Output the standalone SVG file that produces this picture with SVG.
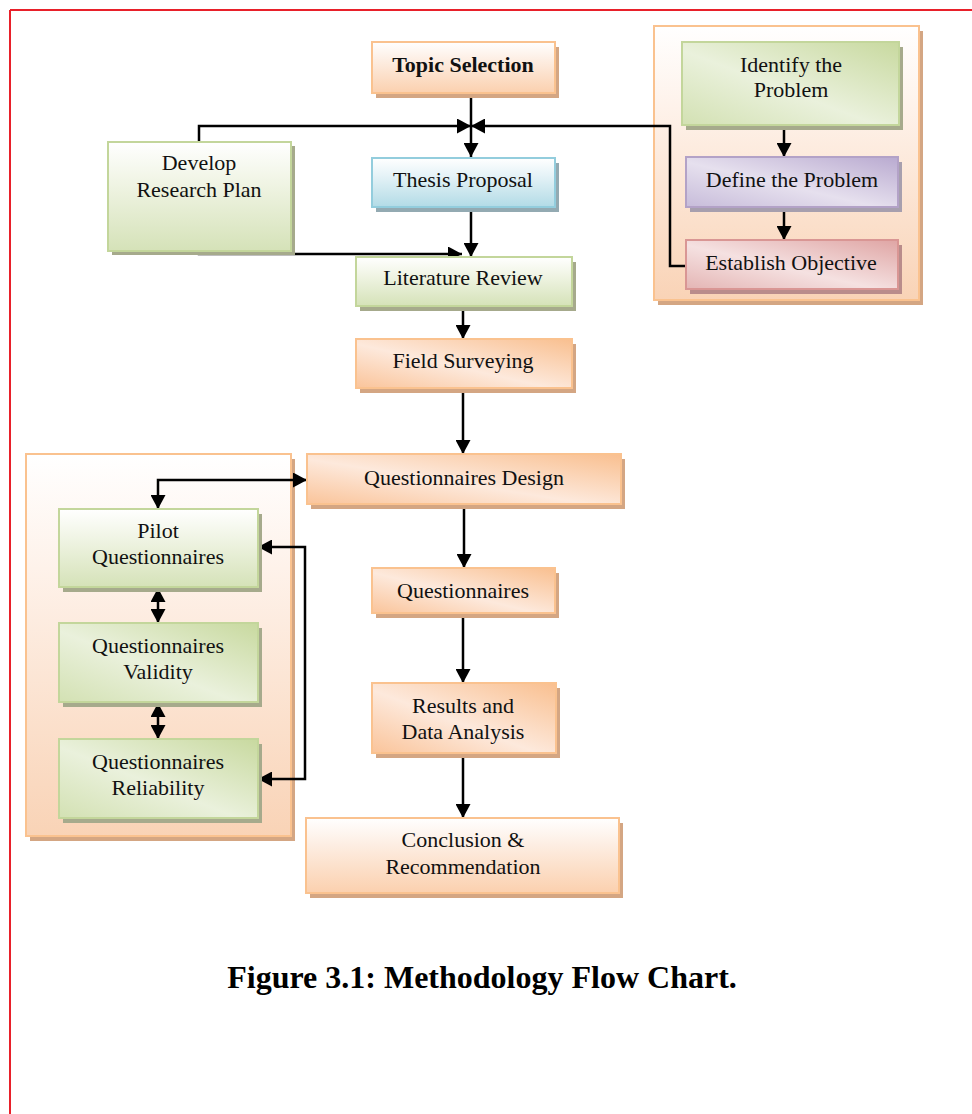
<svg xmlns="http://www.w3.org/2000/svg" width="972" height="1114" viewBox="0 0 972 1114">
<defs>
<linearGradient id="gOrV" x1="0" y1="0" x2="0" y2="1"><stop offset="0" stop-color="#ffffff"/><stop offset="0.35" stop-color="#fdeee3"/><stop offset="1" stop-color="#fbd0ae"/></linearGradient>
<linearGradient id="gOrD" x1="1" y1="0" x2="0" y2="1"><stop offset="0" stop-color="#f9bf8f"/><stop offset="0.55" stop-color="#fde9dc"/><stop offset="1" stop-color="#fac49a"/></linearGradient>
<linearGradient id="gGrV" x1="0" y1="0" x2="0" y2="1"><stop offset="0" stop-color="#ffffff"/><stop offset="0.35" stop-color="#f1f5e6"/><stop offset="1" stop-color="#d5e2b8"/></linearGradient>
<linearGradient id="gGrD" x1="1" y1="0" x2="0" y2="1"><stop offset="0" stop-color="#c8d99f"/><stop offset="0.55" stop-color="#eaf1dc"/><stop offset="1" stop-color="#d3e1b3"/></linearGradient>
<linearGradient id="gBlV" x1="0" y1="0" x2="0" y2="1"><stop offset="0" stop-color="#ffffff"/><stop offset="0.35" stop-color="#e6f3f7"/><stop offset="1" stop-color="#b2dbe6"/></linearGradient>
<linearGradient id="gPuD" x1="1" y1="0" x2="0" y2="1"><stop offset="0" stop-color="#b9aad0"/><stop offset="0.55" stop-color="#e6e0ee"/><stop offset="1" stop-color="#c7bcda"/></linearGradient>
<linearGradient id="gReD" x1="1" y1="0" x2="0" y2="1"><stop offset="0" stop-color="#dfa5a4"/><stop offset="0.55" stop-color="#f5e1e1"/><stop offset="1" stop-color="#e4b5b4"/></linearGradient>
<linearGradient id="gCont" x1="0" y1="0" x2="0" y2="1"><stop offset="0" stop-color="#ffffff"/><stop offset="0.3" stop-color="#fef2ea"/><stop offset="1" stop-color="#f9d3b6"/></linearGradient>
<marker id="ah" viewBox="0 0 14 15" refX="14" refY="7.5" markerWidth="14" markerHeight="15" markerUnits="userSpaceOnUse" orient="auto-start-reverse"><path d="M0,0 L14,7.5 L0,15 z" fill="#000"/></marker>
</defs>
<style>
.t{font-family:"Liberation Serif","Times New Roman",serif;font-size:22px;fill:#111;text-anchor:middle}
.b{font-weight:bold}
.cap{font-family:"Liberation Serif","Times New Roman",serif;font-size:32px;font-weight:bold;fill:#000;text-anchor:middle}
.bo{stroke:#fac28f;stroke-width:2}
.bg{stroke:#c3d69b;stroke-width:2}
.bb{stroke:#93cddd;stroke-width:2}
.bp{stroke:#b3a2c7;stroke-width:2}
.br{stroke:#d99694;stroke-width:2}
.so{fill:#d4a683}
.sg{fill:#a6aa8c}
.sb{fill:#93aab2}
.sp{fill:#a79fae}
.sr{fill:#b98c8b}
.c{fill:none;stroke:#000;stroke-width:2.5}
</style>
<path d="M10,10 H972 M10,10 V1114" fill="none" stroke="#e8202a" stroke-width="2"/>

<g id="container-left">
<rect x="30" y="459" width="265" height="382" class="so"/>
<rect x="26" y="454" width="265" height="382" fill="url(#gCont)" class="bo"/>
</g>
<g id="container-right">
<rect x="658" y="31" width="265" height="274" class="so"/>
<rect x="654" y="26" width="265" height="274" fill="url(#gCont)" class="bo"/>
</g>

<g id="connectors">
<path class="c" d="M471,93 V157" marker-end="url(#ah)"/>
<path class="c" d="M199,142 V126 H471" marker-end="url(#ah)"/>
<path class="c" d="M686,266 H670 V126 H471" marker-end="url(#ah)"/>
<path class="c" d="M471,207 V257" marker-end="url(#ah)"/>
<path class="c" d="M199,251 V254 H462" marker-end="url(#ah)"/>
<path class="c" d="M463,307 V339" marker-end="url(#ah)"/>
<path class="c" d="M463,388 V454" marker-end="url(#ah)"/>
<path class="c" d="M464,504 V568" marker-end="url(#ah)"/>
<path class="c" d="M463,613 V683" marker-end="url(#ah)"/>
<path class="c" d="M463,753 V818" marker-end="url(#ah)"/>
<path class="c" d="M784,125 V157" marker-end="url(#ah)"/>
<path class="c" d="M784,207 V240" marker-end="url(#ah)"/>
<path class="c" d="M158,509 V480 H307" marker-start="url(#ah)" marker-end="url(#ah)"/>
<path class="c" d="M258,547 H305 V779 H258" marker-start="url(#ah)" marker-end="url(#ah)"/>
<path class="c" d="M158,588 V623" marker-start="url(#ah)" marker-end="url(#ah)"/>
<path class="c" d="M158,703 V739" marker-start="url(#ah)" marker-end="url(#ah)"/>
</g>

<g id="topic-selection">
<rect x="376" y="47" width="183" height="51" class="so"/>
<rect x="372" y="42" width="183" height="51" fill="url(#gOrV)" class="bo"/>
<text x="463" y="72" class="t b">Topic Selection</text>
</g>
<g id="develop-research-plan">
<rect x="112" y="146" width="183" height="109" class="sg"/>
<rect x="108" y="142" width="183" height="109" fill="url(#gGrV)" class="bg"/>
<text x="199" y="170" class="t">Develop</text>
<text x="199" y="197" class="t">Research Plan</text>
</g>
<g id="thesis-proposal">
<rect x="376" y="163" width="183" height="49" class="sb"/>
<rect x="372" y="158" width="183" height="49" fill="url(#gBlV)" class="bb"/>
<text x="463" y="187" class="t">Thesis Proposal</text>
</g>
<g id="literature-review">
<rect x="360" y="262" width="216" height="49" class="sg"/>
<rect x="356" y="257" width="216" height="49" fill="url(#gGrV)" class="bg"/>
<text x="463" y="285" class="t">Literature Review</text>
</g>
<g id="field-surveying">
<rect x="360" y="344" width="216" height="49" class="so"/>
<rect x="356" y="339" width="216" height="49" fill="url(#gOrD)" class="bo"/>
<text x="463" y="368" class="t">Field Surveying</text>
</g>
<g id="identify-problem">
<rect x="686" y="47" width="217" height="83" class="sg"/>
<rect x="682" y="42" width="217" height="83" fill="url(#gGrD)" class="bg"/>
<text x="791" y="72" class="t">Identify the</text>
<text x="791" y="97" class="t">Problem</text>
</g>
<g id="define-problem">
<rect x="690" y="162" width="212" height="50" class="sp"/>
<rect x="686" y="157" width="212" height="50" fill="url(#gPuD)" class="bp"/>
<text x="792" y="187" class="t">Define the Problem</text>
</g>
<g id="establish-objective">
<rect x="690" y="245" width="212" height="49" class="sr"/>
<rect x="686" y="240" width="212" height="49" fill="url(#gReD)" class="br"/>
<text x="791" y="270" class="t">Establish Objective</text>
</g>
<g id="questionnaires-design">
<rect x="311" y="459" width="314" height="50" class="so"/>
<rect x="307" y="454" width="314" height="50" fill="url(#gOrD)" class="bo"/>
<text x="464" y="485" class="t">Questionnaires Design</text>
</g>
<g id="questionnaires">
<rect x="376" y="573" width="183" height="45" class="so"/>
<rect x="372" y="568" width="183" height="45" fill="url(#gOrD)" class="bo"/>
<text x="463" y="598" class="t">Questionnaires</text>
</g>
<g id="results-analysis">
<rect x="376" y="688" width="184" height="70" class="so"/>
<rect x="372" y="683" width="184" height="70" fill="url(#gOrD)" class="bo"/>
<text x="463" y="713" class="t">Results and</text>
<text x="463" y="739" class="t">Data Analysis</text>
</g>
<g id="conclusion">
<rect x="310" y="823" width="313" height="75" class="so"/>
<rect x="306" y="818" width="313" height="75" fill="url(#gOrV)" class="bo"/>
<text x="463" y="847" class="t">Conclusion &amp;</text>
<text x="463" y="874" class="t">Recommendation</text>
</g>
<g id="pilot-questionnaires">
<rect x="63" y="514" width="199" height="78" class="sg"/>
<rect x="59" y="509" width="199" height="78" fill="url(#gGrV)" class="bg"/>
<text x="158" y="538" class="t">Pilot</text>
<text x="158" y="564" class="t">Questionnaires</text>
</g>
<g id="questionnaires-validity">
<rect x="63" y="628" width="199" height="79" class="sg"/>
<rect x="59" y="623" width="199" height="79" fill="url(#gGrD)" class="bg"/>
<text x="158" y="653" class="t">Questionnaires</text>
<text x="158" y="679" class="t">Validity</text>
</g>
<g id="questionnaires-reliability">
<rect x="63" y="744" width="199" height="79" class="sg"/>
<rect x="59" y="739" width="199" height="79" fill="url(#gGrD)" class="bg"/>
<text x="158" y="769" class="t">Questionnaires</text>
<text x="158" y="795" class="t">Reliability</text>
</g>

<text x="482" y="988" class="cap">Figure 3.1: Methodology Flow Chart.</text>
</svg>
